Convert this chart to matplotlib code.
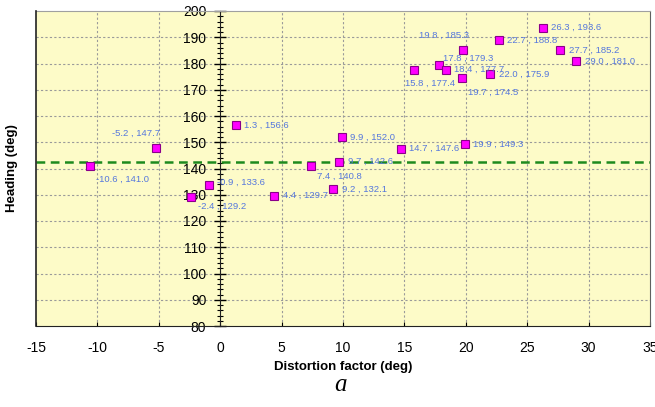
import matplotlib.pyplot as plt
from matplotlib.ticker import MultipleLocator

# data
distortion = [-10.6, -5.2, -2.4, -0.9, 1.3, 4.4, 7.4, 9.7, 9.9, 9.2, 14.7,
              19.9, 15.8, 17.8, 18.4, 19.8, 19.7, 22.0, 22.7, 26.3, 27.7, 29.0]
heading = [141.0, 147.7, 129.2, 133.6, 156.6, 129.7, 140.8, 142.6, 152.0, 132.1, 147.6,
           149.3, 177.4, 179.3, 177.7, 185.3, 174.5, 175.9, 188.8, 193.6, 185.2, 181.0]
mean_line = 142.3

# label placement per point (offset in points, horizontal alignment)
label_pos = {
    0: (4, -10, 'left'),
    1: (3, 11, 'right'),
    2: (5, -7, 'left'),
    3: (6, 2, 'left'),
    6: (4, -7, 'left'),
    12: (-7, -9, 'left'),
    13: (3, 5, 'left'),
    15: (4, 10, 'right'),
    16: (4, -10, 'left'),
}

plt.rcParams['font.family'] = ['Liberation Sans', 'DejaVu Sans']
plt.rcParams['axes.unicode_minus'] = False

fig = plt.figure(figsize=(6.55, 4.07), dpi=100)
ax = fig.add_axes([36 / 655, 81 / 407, 614 / 655, 315 / 407])
ax.set_facecolor('#fdfbc8')

ax.set_xlim(-15, 35)
ax.set_ylim(80, 200)

# grid
for gx in range(-10, 35, 5):
    ax.axvline(gx, color='#9a9a9a', lw=0.8, ls=(0, (2, 2)), zorder=1)
for gy in range(90, 200, 10):
    ax.axhline(gy, color='#9a9a9a', lw=0.8, ls=(0, (2, 2)), zorder=1)

# y axis through x = 0
ax.spines['left'].set_position(('data', 0))
ax.spines['left'].set_color('#222222')
ax.spines['bottom'].set_color('#222222')
ax.spines['top'].set_color('#a0a0a0')
ax.spines['right'].set_color('#606060')
ax.plot([0, 0], [0, 1], transform=ax.transAxes, color='#222222', lw=1.2, clip_on=False, zorder=3)

ax.yaxis.set_major_locator(MultipleLocator(10))
ax.yaxis.set_minor_locator(MultipleLocator(2))
ax.xaxis.set_major_locator(MultipleLocator(5))
ax.tick_params(axis='y', which='major', direction='inout', length=8, width=1, pad=6, labelsize=10)
ax.tick_params(axis='y', which='minor', direction='inout', length=5, width=0.8)
ax.tick_params(axis='x', which='major', direction='in', length=3, pad=11, labelsize=10)

ax.axhline(mean_line, color='#1e8a1e', lw=1.8, ls=(0, (3.5, 2.2)), zorder=2)

ax.plot(distortion, heading, linestyle='none', marker='s', markersize=6,
        markerfacecolor='#ff00ff', markeredgecolor='#8a008a', markeredgewidth=0.8, zorder=4)

for i, (x, y) in enumerate(zip(distortion, heading)):
    dx, dy, ha = label_pos.get(i, (6, 0, 'left'))
    ax.annotate(f'{x:.1f} , {y:.1f}', (x, y), xytext=(dx, dy), textcoords='offset points',
                ha=ha, va='center', fontsize=6.8, color='#5577dd', zorder=5)

ax.set_xlabel('Distortion factor (deg)', fontsize=9.5, fontweight='bold')
ax.set_ylabel('Heading (deg)', fontsize=9.5, fontweight='bold')
ax.xaxis.set_label_coords(0.5, -0.112)
ax.yaxis.set_label_coords(-0.03, 0.5)

fig.text(0.52, 0.04, 'a', fontsize=18, style='italic', family='Liberation Serif', ha='center')

fig.savefig('out.png', dpi=100)
